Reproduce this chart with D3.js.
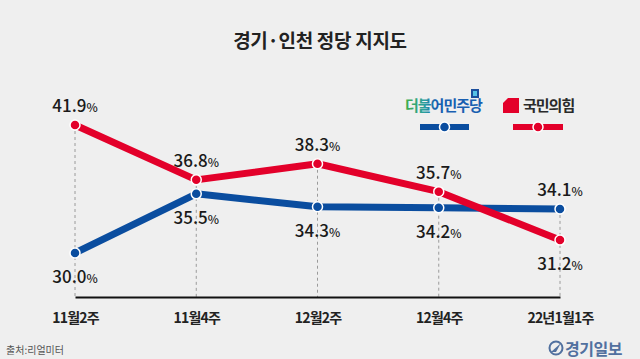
<!DOCTYPE html>
<html>
<head>
<meta charset="utf-8">
<script src="https://cdn.jsdelivr.net/npm/d3@7"></script>
<style>
  body { margin: 0; background: #efefef; }
  svg { display: block; font-family: "Noto Sans CJK KR", "Noto Sans", sans-serif; }
</style>
</head>
<body>
<script>
// data
const weeks = ["11월2주", "11월4주", "12월2주", "12월4주", "22년1월1주"]
const minju = [30.0, 35.5, 34.3, 34.2, 34.1]
const ppp = [41.9, 36.8, 38.3, 35.7, 31.2]
// label side for each point: 1 = above, -1 = below
const minjuSide = [-1, -1, -1, -1, 1]
const pppSide = [1, 1, 1, 1, -1]

width = 640
height = 359
blue = "#0a4d9f"
red = "#e3002a"

const svg = d3.select("body").append("svg")
    .attr("width", width)
    .attr("height", height)

svg.append("rect").attr("width", width).attr("height", height).attr("fill", "#efefef")

const x = d3.scalePoint()
    .domain(weeks)
    .range([75, 560])

const y = d3.scaleLinear()
    .domain([30, 41.9])
    .range([253, 125])

const axisY = 297

// title
svg.append("text")
    .attr("x", 320).attr("y", 48)
    .attr("text-anchor", "middle")
    .attr("font-size", 19).attr("font-weight", 700)
    .attr("letter-spacing", -0.3)
    .attr("fill", "#222")
    .text("경기·인천 정당 지지도")

// dashed guides from the top point to the axis
svg.append("g")
    .selectAll("line")
    .data(weeks)
    .join("line")
    .attr("x1", d => x(d)).attr("x2", d => x(d))
    .attr("y1", (d, i) => y(Math.max(minju[i], ppp[i])))
    .attr("y2", axisY)
    .attr("stroke", "#9a9a9a")
    .attr("stroke-width", 1)
    .attr("stroke-dasharray", "3,3")

// x axis
const xAxis = svg.append("g")
    .attr("transform", `translate(0,${axisY})`)
    .call(d3.axisBottom(x).tickSize(0).tickPadding(16))
xAxis.select(".domain").attr("stroke", "#111").attr("stroke-width", 2)
xAxis.selectAll("text")
    .attr("font-family", "'Noto Sans CJK KR', sans-serif")
    .attr("font-size", 14).attr("font-weight", 700)
    .attr("fill", "#222")
    .attr("letter-spacing", -0.8)

const line = d3.line()
    .x((d, i) => x(weeks[i]))
    .y(d => y(d))

function series(values, color) {
    svg.append("path")
        .datum(values)
        .attr("d", line)
        .attr("fill", "none")
        .attr("stroke", color)
        .attr("stroke-width", 7)
        .attr("stroke-linejoin", "round")

    svg.append("g")
        .selectAll("circle")
        .data(values)
        .join("circle")
        .attr("cx", (d, i) => x(weeks[i]))
        .attr("cy", d => y(d))
        .attr("r", 5)
        .attr("fill", color)
        .attr("stroke", "#fff")
        .attr("stroke-width", 1.5)
}

function labels(values, sides) {
    const t = svg.append("g")
        .selectAll("text")
        .data(values)
        .join("text")
        .attr("x", (d, i) => x(weeks[i]))
        .attr("y", (d, i) => y(d) + (sides[i] > 0 ? -13 : 30))
        .attr("text-anchor", "middle")
        .attr("fill", "#1a1a1a")
        .attr("font-weight", 500)
    t.append("tspan").attr("font-size", 17).text(d => d.toFixed(1))
    t.append("tspan").attr("font-size", 12).text("%")
}

series(minju, blue)
series(ppp, red)
labels(minju, minjuSide)
labels(ppp, pppSide)

// legend - 더불어민주당
const defs = svg.append("defs")
const grad = defs.append("linearGradient").attr("id", "dp")
grad.append("stop").attr("offset", "0%").attr("stop-color", "#3fae49")
grad.append("stop").attr("offset", "25%").attr("stop-color", "#2a9fa0")
grad.append("stop").attr("offset", "40%").attr("stop-color", "#1a5fb0")
grad.append("stop").attr("offset", "100%").attr("stop-color", "#1a5fb0")

svg.append("text")
    .attr("x", 405).attr("y", 111)
    .attr("font-size", 15).attr("font-weight", 700)
    .attr("letter-spacing", -1)
    .attr("fill", "url(#dp)")
    .text("더불어민주당")
svg.append("rect").attr("x", 471).attr("y", 89).attr("width", 8).attr("height", 9)
    .attr("fill", "#1c4f9c")
svg.append("rect").attr("x", 473).attr("y", 91).attr("width", 4).attr("height", 5)
    .attr("fill", "#56c2e6")

function legendLine(x0, x1, cy, color) {
    svg.append("line")
        .attr("x1", x0).attr("x2", x1).attr("y1", cy).attr("y2", cy)
        .attr("stroke", color).attr("stroke-width", 6)
    svg.append("circle")
        .attr("cx", (x0 + x1) / 2).attr("cy", cy).attr("r", 5)
        .attr("fill", color).attr("stroke", "#fff").attr("stroke-width", 1.5)
}
legendLine(420, 469, 127, blue)

// legend - 국민의힘
svg.append("path")
    .attr("d", "M508,98 L519,98 L519,113 L503,113 L503,103 Z")
    .attr("fill", red)
svg.append("text")
    .attr("x", 523).attr("y", 111)
    .attr("font-size", 15).attr("font-weight", 700)
    .attr("letter-spacing", -1)
    .attr("fill", "#2a2a2a")
    .text("국민의힘")
legendLine(513, 563, 127, red)

// source + logo
svg.append("text")
    .attr("x", 6).attr("y", 354)
    .attr("font-size", 10)
    .attr("fill", "#555")
    .text("출처:리얼미터")

svg.append("circle").attr("cx", 556).attr("cy", 348).attr("r", 6.5)
    .attr("fill", "none").attr("stroke", "#51709f").attr("stroke-width", 2)
svg.append("path").attr("d", "M551,352 L561,343 L556,352 Z").attr("fill", "#51709f")
svg.append("text")
    .attr("x", 565).attr("y", 355)
    .attr("font-size", 16).attr("font-weight", 700)
    .attr("letter-spacing", -0.5)
    .attr("fill", "#51709f")
    .text("경기일보")
</script>
</body>
</html>
